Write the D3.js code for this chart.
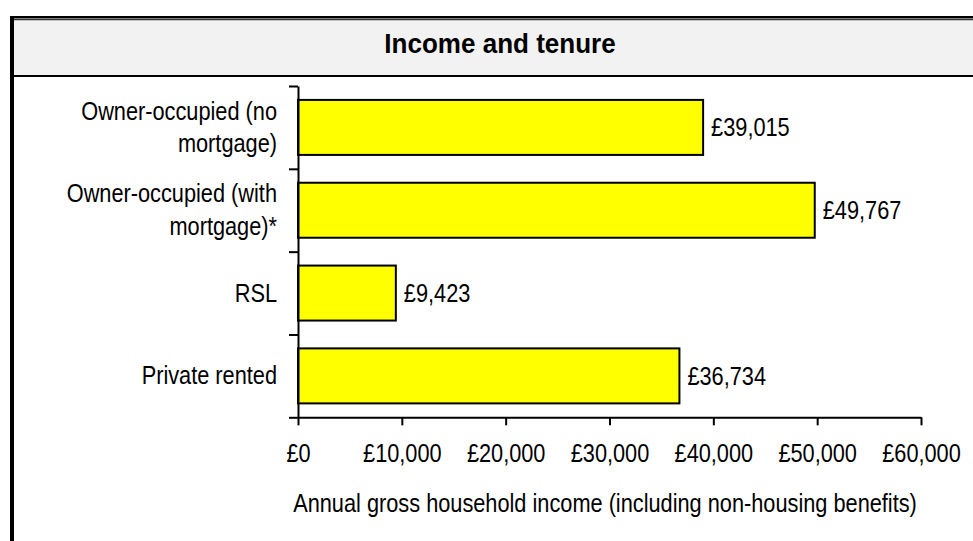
<!DOCTYPE html>
<html>
<head>
<meta charset="utf-8">
<script src="https://cdn.jsdelivr.net/npm/d3@7"></script>
<style>
  html, body { margin: 0; padding: 0; background: #ffffff; }
  svg { display: block; }
  text { font-family: "Liberation Sans", Arial, Helvetica, sans-serif; fill: #000; }
</style>
</head>
<body>
<svg id="chart" width="973" height="541"></svg>
<script>
// Tenure categories (split into display lines) and mean annual income
const categories = ["Owner-occupied (no mortgage)", "Owner-occupied (with mortgage)*", "RSL", "Private rented"];
const categoryLines = [["Owner-occupied (no", "mortgage)"], ["Owner-occupied (with", "mortgage)*"], ["RSL"], ["Private rented"]];
const incomes = [39015, 49767, 9423, 36734];
const xTicks = [0, 10000, 20000, 30000, 40000, 50000, 60000];
const chartTitle = "Income and tenure";
const xTitle = "Annual gross household income (including non-housing benefits)";

const svg = d3.select("#chart");
const W = 973, H = 541;
const squeeze = 0.87;   // narrow glyphs used throughout the chart

// Frame and title band
svg.append("rect").attr("x", 0).attr("y", 0).attr("width", W).attr("height", H).attr("fill", "#fff");
svg.append("rect").attr("x", 14).attr("y", 20).attr("width", W - 14).attr("height", 55).attr("fill", "#f2f2f2");
svg.append("rect").attr("x", 10).attr("y", 16).attr("width", W - 10).attr("height", 2.5).attr("fill", "#000");
svg.append("rect").attr("x", 13).attr("y", 19.2).attr("width", W - 13).attr("height", 1).attr("fill", "#000");
svg.append("rect").attr("x", 10).attr("y", 16).attr("width", 4).attr("height", H - 16).attr("fill", "#000");
svg.append("rect").attr("x", 14).attr("y", 75).attr("width", W - 14).attr("height", 2).attr("fill", "#000");

function squeezedText(parent, x, y, str, size, opts = {}) {
  const g = parent.append("g").attr("transform", `translate(${x},${y}) scale(${opts.sx || squeeze},1)`);
  return g.append("text")
    .attr("text-anchor", opts.anchor || "start")
    .attr("font-size", size)
    .attr("font-weight", opts.weight || "normal")
    .text(str);
}

squeezedText(svg, 500, 53.3, chartTitle, 28, { anchor: "middle", weight: "bold", sx: 0.93 });

// Scales
const x = d3.scaleLinear().domain([0, 60000]).range([298, 921]);
const y = d3.scaleBand().domain(categories).range([86, 417.3]).paddingInner(0.336).paddingOuter(0.168);
const yEdges = d3.scaleLinear().domain([0, categories.length]).range(y.range());

// Bars
svg.append("g").selectAll("rect").data(incomes).join("rect")
  .attr("x", x(0))
  .attr("y", (d, i) => y(categories[i]))
  .attr("width", d => x(d) - x(0))
  .attr("height", y.bandwidth())
  .attr("fill", "#ffff00")
  .attr("stroke", "#000")
  .attr("stroke-width", 2);

// Value labels
incomes.forEach((v, i) => {
  squeezedText(svg, x(v) + 8, y(categories[i]) + y.bandwidth() / 2 + 9, "£" + d3.format(",")(v), 25);
});

// Category labels
categoryLines.forEach((lines, i) => {
  const c = y(categories[i]) + y.bandwidth() / 2;
  const lh = 32.7;
  const first = c + 8.5 - (lines.length - 1) * lh / 2;
  lines.forEach((ln, j) => squeezedText(svg, 277, first + j * lh, ln, 25, { anchor: "end" }));
});

// Y axis: category boundary ticks
const yAxis = svg.append("g").attr("transform", `translate(${x(0)},0)`)
  .call(d3.axisLeft(yEdges).tickValues(d3.range(categories.length + 1)).tickSize(9).tickSizeOuter(0).tickFormat(""));
yAxis.select(".domain").attr("stroke", "#000").attr("stroke-width", 2);
yAxis.selectAll(".tick line").attr("stroke", "#000").attr("stroke-width", 2);

// X axis
const xAxis = svg.append("g").attr("transform", `translate(0,${yEdges(categories.length)})`)
  .call(d3.axisBottom(x).tickValues(xTicks).tickSize(8).tickSizeOuter(0)
    .tickFormat(d => "£" + d3.format(",")(d)));
xAxis.select(".domain").attr("stroke", "#000").attr("stroke-width", 2);
xAxis.selectAll(".tick line").attr("stroke", "#000").attr("stroke-width", 2);
xAxis.selectAll(".tick text")
  .attr("y", 44.4).attr("dy", null)
  .attr("font-size", 25)
  .attr("font-family", "Liberation Sans, Arial, sans-serif")
  .attr("fill", "#000")
  .attr("transform", `scale(${squeeze},1)`);

squeezedText(svg, 605, 511.7, xTitle, 25, { anchor: "middle" });
</script>
</body>
</html>
